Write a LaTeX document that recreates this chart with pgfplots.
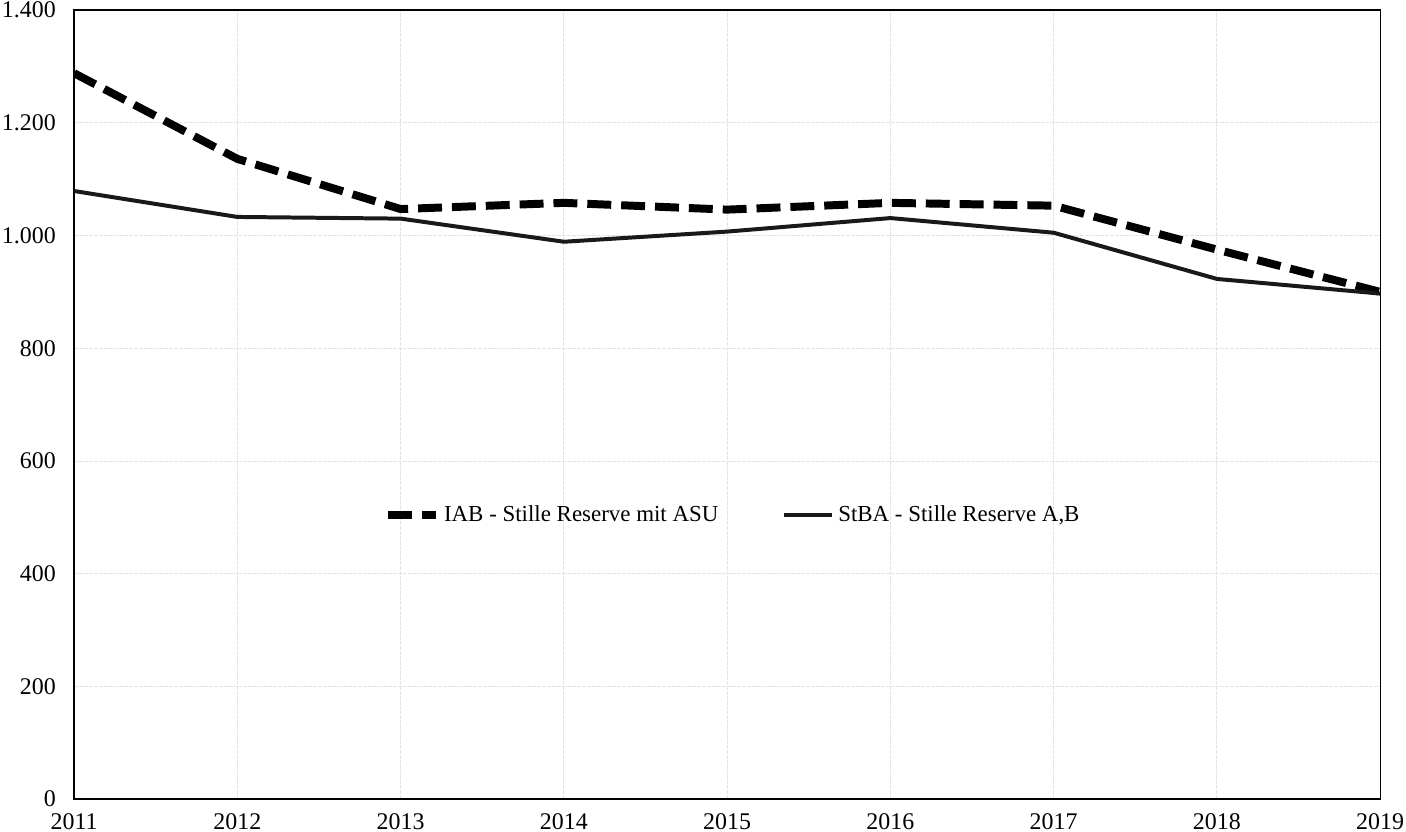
\documentclass[border=0pt]{standalone}
\usepackage{fontspec}
\setmainfont{Liberation Serif}
\usepackage{pgfplots}
\pgfplotsset{compat=1.18}

\pgfplotstableread{
year iab stba
2011 1288 1079
2012 1136 1033
2013 1047 1030
2014 1058 989
2015 1046 1007
2016 1058 1031
2017 1053 1005
2018 975 923
2019 900 897
}\reserve

\begin{document}
\begin{tikzpicture}
\begin{axis}[
  scale only axis,
  width=655.5pt, height=396pt,
  xmin=2011, xmax=2019, ymin=0, ymax=1400,
  xtick={2011,...,2019}, ytick={0,200,...,1400},
  major tick length=0pt,
  grid=major,
  major grid style={draw=black!11, dash pattern=on 2pt off 0.5pt},
  axis line style={black, line width=0.7pt},
  font=\fontsize{12}{13}\selectfont,
  /pgf/number format/assume math mode=true,
  every tick label/.append style={inner sep=1pt},
  yticklabel style={/pgf/number format/.cd, 1000 sep={.}},
  xticklabel style={/pgf/number format/1000 sep={}},
  yticklabel shift=8pt,
  xticklabel shift=6pt,
  legend style={draw=none, fill=none, at={(0.505,0.36)}, anchor=center,
    legend columns=2, font=\fontsize{11.5}{13}\selectfont,
    /tikz/every even column/.append style={column sep=30pt}},
  legend image code/.code={\draw[#1] (0cm,0cm) -- (0.85cm,0cm);},
]
\addplot[black, line width=4pt, dash pattern=on 12pt off 5pt] table[x=year, y=iab] {\reserve};
\addlegendentry{IAB - Stille Reserve mit ASU}
\addplot[black!90, line width=2pt] table[x=year, y=stba] {\reserve};
\addlegendentry{StBA - Stille Reserve A,B}
\end{axis}
\end{tikzpicture}
\end{document}
